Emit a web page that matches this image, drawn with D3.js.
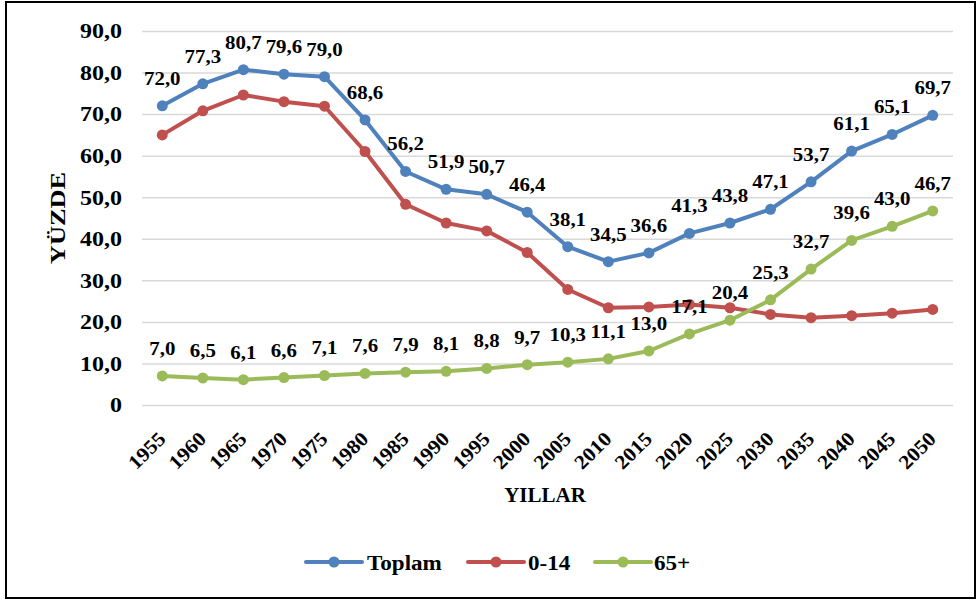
<!DOCTYPE html>
<html>
<head>
<meta charset="utf-8">
<script src="https://cdn.jsdelivr.net/npm/d3@7"></script>
<style>
  html, body { margin: 0; padding: 0; background: #fff; }
  svg { display: block; }
</style>
</head>
<body>
<svg id="chart" width="979" height="603"></svg>
<script>
const years = ["1955","1960","1965","1970","1975","1980","1985","1990","1995","2000",
               "2005","2010","2015","2020","2025","2030","2035","2040","2045","2050"];
const toplam = [72.0,77.3,80.7,79.6,79.0,68.6,56.2,51.9,50.7,46.4,38.1,34.5,36.6,41.3,43.8,47.1,53.7,61.1,65.1,69.7];
const cocuk  = [65.0,70.8,74.6,73.0,71.9,61.0,48.3,43.8,41.9,36.7,27.8,23.4,23.6,24.2,23.4,21.8,21.0,21.5,22.1,23.0];
const yasli  = [7.0,6.5,6.1,6.6,7.1,7.6,7.9,8.1,8.8,9.7,10.3,11.1,13.0,17.1,20.4,25.3,32.7,39.6,43.0,46.7];
const yTicks = [0,10,20,30,40,50,60,70,80,90];
const seriesNames = ["Toplam","0-14","65+"];
const colors = ["#4f81bd","#c0504d","#9bbb59"];
const showLabels = [true,false,true];

const FONT = "Liberation Serif";
const svg = d3.select("#chart");
const fmt = v => v === 0 ? "0" : v.toFixed(1).replace(".", ",");
const styleText = sel => sel.style("font-family", FONT).style("font-weight","bold").style("fill","#000");

// outer border
svg.append("rect").attr("x",6).attr("y",2).attr("width",969).attr("height",596)
  .attr("fill","none").attr("stroke","#000").attr("stroke-width",2);

const x = d3.scalePoint().domain(years).range([142,953]).padding(0.5);
const y = d3.scaleLinear().domain([0,90]).range([405,31]);

// y axis with gridlines
const yAxis = svg.append("g").attr("transform","translate(142,0)")
  .call(d3.axisLeft(y).tickValues(yTicks).tickSize(-811).tickFormat(fmt));
yAxis.select(".domain").remove();
yAxis.selectAll(".tick line").attr("stroke","#d9d9d9").attr("stroke-width",1.5);
yAxis.selectAll(".tick text")
  .attr("x",null).attr("dy","0.34em")
  .attr("transform","translate(-20,0) scale(1.2,1)")
  .attr("text-anchor","end")
  .style("font-size","20px").call(styleText);

// x axis
const xAxis = svg.append("g").attr("transform","translate(0,405)")
  .call(d3.axisBottom(x).tickSize(0));
xAxis.select(".domain").remove();
xAxis.selectAll(".tick text")
  .attr("y",null).attr("dy",null)
  .attr("transform","translate(4,35) rotate(-45) scale(1.08,1)")
  .attr("text-anchor","end")
  .style("font-size","20px").call(styleText);

// axis titles
svg.append("text").attr("x",545).attr("y",502).attr("text-anchor","middle")
  .style("font-size","21px").call(styleText).text("YILLAR");
svg.append("text").attr("transform","translate(65,218) rotate(-90) scale(1.2,1)")
  .attr("text-anchor","middle").style("font-size","22px").call(styleText).text("YÜZDE");

// series
const allSeries = [toplam, cocuk, yasli];
const line = d3.line().x((d,i)=>x(years[i])).y(d=>y(d));
allSeries.forEach((vals, si) => {
  const g = svg.append("g");
  g.append("path").datum(vals).attr("d", line).attr("fill","none")
    .attr("stroke", colors[si]).attr("stroke-width",4).attr("stroke-linejoin","round").attr("stroke-linecap","round");
  g.selectAll("circle").data(vals).join("circle")
    .attr("cx",(d,i)=>x(years[i])).attr("cy",d=>y(d)).attr("r",5.5).attr("fill",colors[si]);
});
// labels on top
allSeries.forEach((vals, si) => {
  if (!showLabels[si]) return;
  svg.append("g").selectAll("text").data(vals).join("text")
    .attr("transform",(d,i)=>`translate(${x(years[i])},${y(d)-21}) scale(1.1,1)`)
    .attr("text-anchor","middle").style("font-size","19px").call(styleText).text(d=>fmt(d));
});

// legend
const legendItems = [
  {lx1:306, lx2:362, tx:367},
  {lx1:468, lx2:524, tx:528},
  {lx1:595, lx2:651, tx:654}
];
legendItems.forEach((it, i) => {
  const g = svg.append("g");
  g.append("line").attr("x1",it.lx1).attr("x2",it.lx2).attr("y1",562).attr("y2",562)
    .attr("stroke",colors[i]).attr("stroke-width",4).attr("stroke-linecap","round");
  g.append("circle").attr("cx",(it.lx1+it.lx2)/2).attr("cy",562).attr("r",5.5).attr("fill",colors[i]);
  g.append("text").attr("transform",`translate(${it.tx},570) scale(1.1,1)`)
    .style("font-size","21px").call(styleText).text(seriesNames[i]);
});
</script>
</body>
</html>
